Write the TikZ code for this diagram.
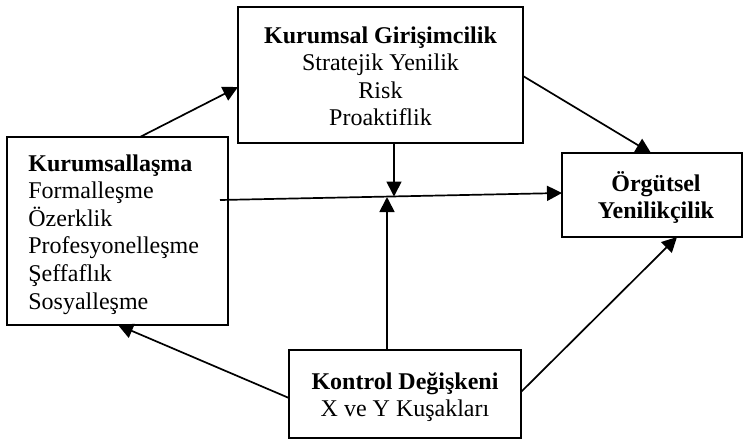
\documentclass[tikz,border=0pt]{standalone}
\usepackage{fontspec}
\setmainfont{Liberation Serif}
\usetikzlibrary{arrows.meta}
\begin{document}
\begin{tikzpicture}[x=0.5pt,y=-0.5pt,
  box/.style={draw,line width=1.2pt,rectangle,inner sep=0pt},
  txt/.style={inner sep=0pt,font=\fontsize{12pt}{13.8pt}\selectfont},
  conn/.style={line width=0.85pt,-{Triangle[length=7.5pt,width=7.5pt]}}]
\useasboundingbox (0,0) rectangle (746,440);
% boxes
\node[box,minimum width=142.5pt,minimum height=68pt] (tbox) at (380.5,75) {};
\node[box,minimum width=110.5pt,minimum height=94pt] (lbox) at (117.5,231) {};
\node[box,minimum width=90pt,minimum height=42pt] (rbox) at (652,195) {};
\node[box,minimum width=116pt,minimum height=44pt] (bbox) at (405,394) {};
% texts
\node[txt,anchor=north,align=center] (tbt) at (380.5,26)
  {\textbf{Kurumsal Girişimcilik}\\Stratejik Yenilik\\Risk\\Proaktiflik};
\node[txt,anchor=north west,align=left] (lbt) at (28,154)
  {\textbf{Kurumsallaşma}\\Formalleşme\\Özerklik\\Profesyonelleşme\\Şeffaflık\\Sosyalleşme};
\node[txt,anchor=north,align=center] (rbt) at (656,171)
  {\textbf{Örgütsel}\\\textbf{Yenilikçilik}};
\node[txt,anchor=north,align=center] (bbt) at (405,372)
  {\textbf{Kontrol Değişkeni}\\X ve Y Kuşakları};
% connector end points on the box borders
\coordinate (a1s) at (140,137);  \coordinate (a1e) at (238,87);
\coordinate (a2s) at (523,76);   \coordinate (a2e) at (651,153);
\coordinate (a3s) at (394,143);  \coordinate (a3e) at (394,196.5);
\coordinate (h1)  at (220,200);  \coordinate (h2)  at (562,193);
\coordinate (a5s) at (387,350);  \coordinate (a5e) at (387,197);
\coordinate (a6s) at (289,398);  \coordinate (a6e) at (118,325);
\coordinate (a7s) at (521,392);  \coordinate (a7e) at (677,237);
% connectors
\draw[conn] (a1s) -- (a1e);
\draw[conn] (a2s) -- (a2e);
\draw[conn] (a3s) -- (a3e);
\draw[conn] (h1) -- (h2);
\draw[conn] (a5s) -- (a5e);
\draw[conn] (a6s) -- (a6e);
\draw[conn] (a7s) -- (a7e);
\end{tikzpicture}
\end{document}
